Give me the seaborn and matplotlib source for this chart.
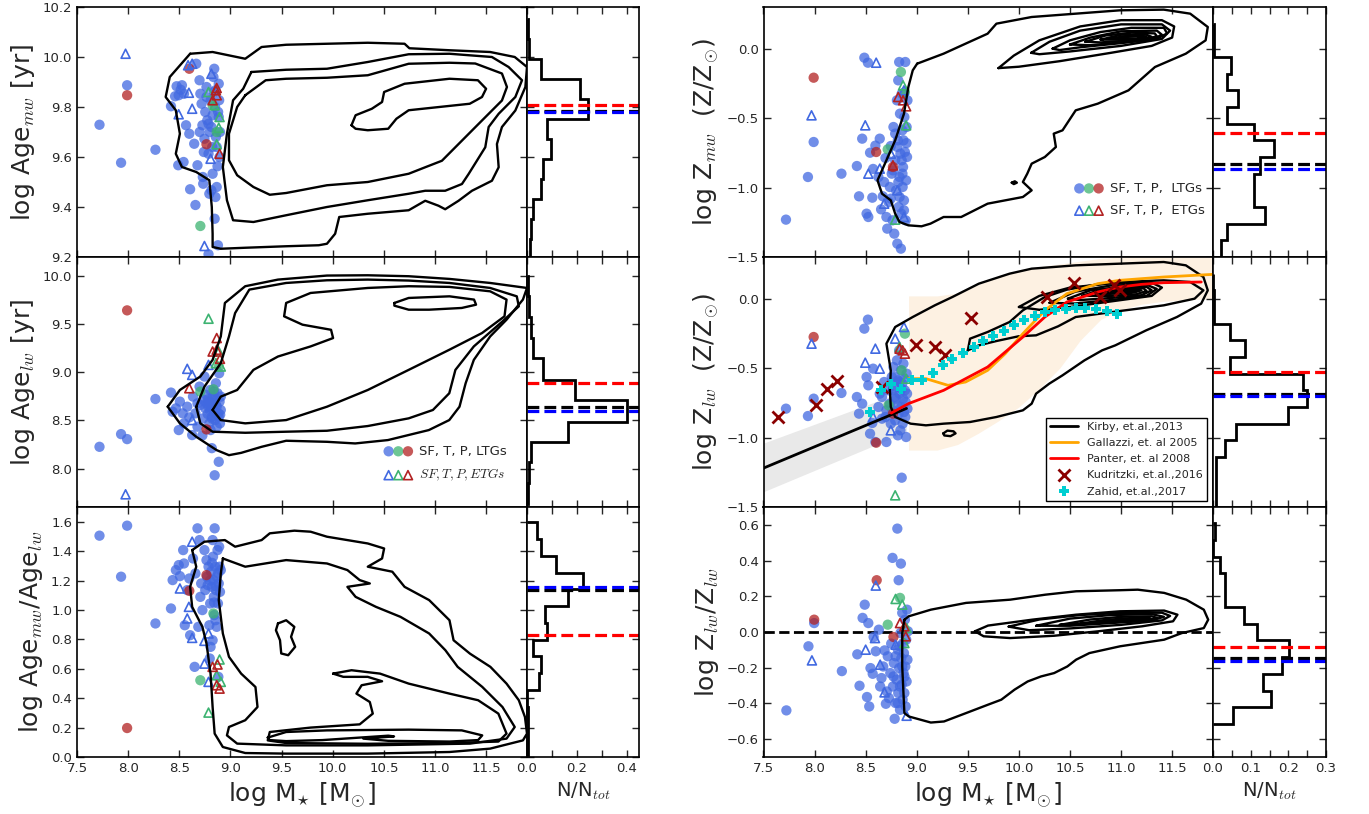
import numpy as np
import matplotlib
matplotlib.use('Agg')
import matplotlib.pyplot as plt
import seaborn as sns
from matplotlib.legend_handler import HandlerTuple

sns.set_style('ticks')
plt.rcParams['font.family'] = ['DejaVu Sans']
plt.rcParams['mathtext.fontset'] = 'cm'

# ---------------- colours ----------------
c_sf, c_t, c_p = 'royalblue', 'mediumseagreen', 'firebrick'

# ---------------- panel A: log Age_mw ----------------
a_ltg_sf = [(7.72,9.729),(7.931,9.577),(7.99,9.887),(8.267,9.629),(8.419,9.803),(8.459,9.843),(8.474,9.883),
            (8.514,9.869),(8.546,9.853),(8.49,9.567),(8.542,9.58),(8.566,9.727),(8.598,9.693),(8.606,9.471),
            (8.646,9.653),(8.658,9.408),(8.666,9.973),(8.678,9.567),(8.698,9.907),(8.706,9.853),(8.718,9.813),
            (8.73,9.52),(8.734,9.493),(8.746,9.673),(8.754,9.78),(8.766,9.88),(8.774,9.747),(8.786,9.613),
            (8.786,9.211),(8.794,9.453),(8.806,9.827),(8.814,9.72),(8.822,9.64),(8.826,9.533),(8.834,9.92),
            (8.842,9.953),(8.846,9.353),(8.85,9.8),(8.854,9.867),(8.858,9.68),(8.866,9.48),(8.874,9.563),
            (8.878,9.247),(8.886,9.893),(8.886,9.76),(8.89,9.827),(8.894,9.6),(8.898,9.7),(8.786,9.733),
            (8.726,9.727),(8.798,9.7),(8.826,9.767),(8.766,9.84),(8.814,9.467),(8.866,9.64),(8.854,9.44),
            (8.494,9.847),(8.526,9.887),(8.74,9.62),(8.7,9.7),(8.84,9.86),(8.88,9.78)]
a_ltg_t = [(8.706,9.324),(8.866,9.7),(8.826,9.807)]
a_ltg_p = [(7.99,9.847),(8.598,9.953),(8.766,9.651)]
a_etg_sf = [(7.975,10.013),(8.494,9.771),(8.594,9.857),(8.626,9.793),(8.586,9.967),(8.626,9.973),
            (8.746,9.244),(8.806,9.593),(8.814,9.933)]
a_etg_t = [(8.786,9.86),(8.894,9.76),(8.886,9.717),(8.866,9.651),(8.846,9.807)]
a_etg_p = [(8.858,9.867),(8.866,9.847),(8.826,9.827),(8.894,9.613),(8.866,9.876)]
a_contours = [
    [(8.606,10.013),(8.826,10.02),(9.145,9.993),(9.305,10.04),(9.545,10.049),(9.944,10.053),(10.343,10.057),
     (10.703,10.053),(10.75,10.035),(11.142,10.027),(11.54,10.02),(11.78,10.0),(11.9,9.96),(11.884,9.88),
     (11.786,9.786),(11.655,9.72),(11.606,9.652),(11.623,9.559),(11.557,9.505),(11.362,9.465),(11.231,9.425),
     (11.1,9.391),(11.035,9.405),(10.905,9.425),(10.743,9.387),(10.343,9.373),(10.064,9.36),(10.024,9.293),
     (9.944,9.253),(9.864,9.247),(9.545,9.243),(9.145,9.237),(8.906,9.233),(8.826,9.24),(8.826,9.293),
     (8.818,9.4),(8.794,9.507),(8.666,9.54),(8.526,9.56),(8.466,9.613),(8.506,9.693),(8.466,9.787),
     (8.367,9.84),(8.407,9.92),(8.606,10.013)],
    [(9.205,9.94),(9.545,9.949),(9.944,9.953),(10.343,9.98),(10.743,10.011),(11.142,10.013),(11.557,10.0),
     (11.72,9.96),(11.851,9.907),(11.786,9.84),(11.623,9.773),(11.525,9.72),(11.492,9.639),(11.329,9.532),
     (11.264,9.492),(11.1,9.465),(10.905,9.465),(10.743,9.453),(10.343,9.427),(9.944,9.4),(9.545,9.367),
     (9.225,9.34),(9.026,9.347),(8.966,9.427),(8.926,9.56),(8.966,9.693),(9.026,9.827),(9.125,9.873),
     (9.205,9.94)],
    [(9.145,9.847),(9.345,9.907),(9.545,9.913),(9.944,9.917),(10.343,9.927),(10.743,9.973),(11.142,9.977),
     (11.394,9.974),(11.655,9.934),(11.704,9.88),(11.655,9.826),(11.394,9.719),(11.231,9.652),(11.068,9.585),
     (10.905,9.559),(10.743,9.533),(10.343,9.5),(9.944,9.487),(9.545,9.456),(9.385,9.449),(9.225,9.48),
     (9.066,9.527),(8.986,9.587),(8.986,9.693),(9.066,9.8),(9.145,9.847)],
    [(10.184,9.727),(10.224,9.767),(10.383,9.793),(10.483,9.82),(10.503,9.86),(10.703,9.893),(11.142,9.913),
     (11.42,9.907),(11.5,9.873),(11.46,9.84),(11.34,9.813),(10.743,9.787),(10.623,9.753),(10.543,9.713),
     (10.343,9.707),(10.224,9.713),(10.184,9.727)],
]
a_edges = [9.193, 9.273, 9.353, 9.433, 9.513, 9.593, 9.673, 9.753, 9.833, 9.913, 9.993, 10.073, 10.153]
a_hist = [0.011, 0.016, 0.025, 0.057, 0.066, 0.098, 0.079, 0.245, 0.213, 0.057, 0.01, 0.005]
a_medians = [9.809, 9.784, 9.779]   # red, black, blue

# ---------------- panel B: log Age_lw ----------------
b_ltg_sf = [(7.72,8.226),(7.931,8.358),(7.99,8.306),(8.267,8.723),(8.419,8.79),(8.435,8.591),(8.467,8.626),
            (8.495,8.4),(8.506,8.696),(8.534,8.574),(8.546,8.47),(8.578,8.643),(8.598,8.532),(8.626,8.348),
            (8.634,8.748),(8.658,8.574),(8.678,8.435),(8.698,8.852),(8.706,8.661),(8.726,8.344),(8.734,8.522),
            (8.746,8.957),(8.754,8.626),(8.766,8.765),(8.778,8.567),(8.786,8.696),(8.794,8.47),(8.802,8.817),
            (8.81,8.643),(8.818,8.212),(8.818,8.539),(8.826,8.748),(8.834,8.609),(8.842,8.696),(8.846,7.93),
            (8.85,8.504),(8.858,8.887),(8.866,8.643),(8.874,8.783),(8.882,8.574),(8.886,8.07),(8.89,8.991),
            (8.894,8.696),(8.898,8.47),(8.906,8.609),(8.906,8.748),(8.806,8.4),(8.866,8.435),(8.766,8.678),
            (8.826,8.678),(8.846,8.574),(8.786,8.643),(8.854,8.73),(8.886,8.539),(8.738,8.713),(8.678,8.678),
            (8.8,8.6),(8.86,8.66),(8.82,8.52),(8.78,8.72),(8.9,8.56),(8.84,8.8)]
b_ltg_t = [(8.706,8.8),(8.834,8.824),(8.886,9.061)]
b_ltg_p = [(7.99,9.645),(8.766,8.407)]
b_etg_sf = [(7.975,7.732),(8.578,9.037),(8.626,8.974),(8.786,9.078),(8.626,8.504)]
b_etg_t = [(8.786,9.558),(8.886,9.217),(8.858,9.096),(8.906,9.061)]
b_etg_p = [(8.866,9.357),(8.826,9.217),(8.866,9.235),(8.898,9.141),(8.598,8.835)]
b_contours = [
    [(8.387,8.643),(8.506,8.817),(8.706,8.957),(8.826,9.13),(8.906,9.374),(8.946,9.722),(9.145,9.896),
     (9.465,9.965),(9.944,10.007),(10.343,10.01),(10.743,10.0),(11.142,9.972),(11.54,9.93),(11.9,9.878),
     (11.86,9.757),(11.7,9.548),(11.54,9.374),(11.38,9.13),(11.3,8.887),(11.24,8.643),(11.14,8.504),
     (10.94,8.4),(10.54,8.296),(10.22,8.261),(9.944,8.278),(9.545,8.289),(9.305,8.226),(9.105,8.163),
     (8.986,8.139),(8.866,8.191),(8.666,8.33),(8.506,8.47),(8.387,8.643)],
    [(8.666,8.643),(8.746,8.852),(8.906,9.096),(8.986,9.374),(9.046,9.617),(9.185,9.861),(9.545,9.93),
     (9.944,9.958),(10.343,9.965),(10.743,9.955),(11.142,9.93),(11.54,9.878),(11.8,9.791),(11.82,9.687),
     (11.66,9.53),(11.38,9.27),(11.2,9.026),(11.14,8.783),(10.98,8.609),(10.743,8.522),(10.343,8.442),
     (9.944,8.393),(9.545,8.383),(9.145,8.372),(8.826,8.383),(8.706,8.47),(8.666,8.643)],
    [(8.826,8.609),(8.906,8.748),(9.066,8.817),(9.225,9.026),(9.465,9.165),(9.784,9.27),(10.004,9.357),
     (9.984,9.443),(9.705,9.496),(9.525,9.583),(9.545,9.722),(9.784,9.826),(10.343,9.878),(10.743,9.896),
     (11.142,9.889),(11.54,9.843),(11.7,9.757),(11.68,9.583),(11.46,9.409),(11.14,9.235),(10.743,9.026),
     (10.343,8.817),(9.944,8.643),(9.545,8.504),(9.145,8.47),(8.906,8.504),(8.826,8.609)],
    [(10.603,9.722),(10.743,9.774),(11.142,9.791),(11.382,9.757),(11.402,9.704),(11.262,9.67),(10.943,9.652),
     (10.743,9.652),(10.603,9.694),(10.603,9.722)],
]
b_edges = [7.635, 7.854, 8.07, 8.278, 8.487, 8.713, 8.922, 9.148, 9.357, 9.574, 9.79, 10.005]
b_hist = [0.005, 0.008, 0.016, 0.164, 0.402, 0.193, 0.066, 0.025, 0.016, 0.01, 0.004]
b_medians = [8.894, 8.636, 8.598]

# ---------------- panel C: log Age_mw/Age_lw ----------------
c_ltg_sf = [(7.72,1.505),(7.931,1.226),(7.99,1.573),(8.267,0.908),(8.419,1.01),(8.435,1.203),(8.467,1.271),
            (8.495,1.305),(8.506,1.23),(8.538,1.407),(8.546,1.316),(8.554,0.896),(8.578,1.135),(8.598,1.214),
            (8.606,0.828),(8.634,1.35),(8.65,0.613),(8.658,1.248),(8.678,1.555),(8.686,0.885),(8.698,1.475),
            (8.706,1.089),(8.714,1.18),(8.726,0.999),(8.746,1.407),(8.754,1.135),(8.766,1.339),(8.77,1.226),
            (8.778,1.169),(8.786,1.294),(8.794,0.896),(8.798,0.67),(8.802,1.044),(8.81,1.26),(8.818,1.157),
            (8.826,1.475),(8.83,1.362),(8.834,1.203),(8.838,1.089),(8.842,0.965),(8.846,1.555),(8.85,1.294),
            (8.854,0.93),(8.858,1.135),(8.866,1.226),(8.874,1.407),(8.878,1.044),(8.882,0.545),(8.886,1.18),
            (8.89,1.43),(8.894,1.294),(8.898,1.123),(8.806,0.749),(8.866,0.885),(8.826,0.794),(8.906,1.271),
            (8.8,1.2),(8.86,1.16),(8.82,1.32),(8.88,1.25),(8.84,1.05)]
c_ltg_t = [(8.834,0.976),(8.706,0.522)]
c_ltg_p = [(7.99,0.197),(8.598,1.13),(8.766,1.237)]
c_etg_sf = [(8.626,1.464),(8.594,1.021),(8.578,0.942),(8.626,0.81),(8.746,0.79),(8.786,0.84),(8.746,0.635),
            (8.786,0.511),(8.506,1.146)]
c_etg_t = [(8.786,0.302),(8.894,0.663),(8.866,0.556),(8.906,0.511)]
c_etg_p = [(8.826,0.613),(8.874,0.629),(8.866,0.488),(8.894,0.465)]
c_contours = [
    [(8.626,1.407),(8.746,1.464),(8.946,1.475),(9.046,1.43),(9.305,1.475),(9.385,1.521),(9.625,1.539),
     (9.784,1.532),(9.944,1.498),(10.343,1.452),(10.503,1.418),(10.483,1.35),(10.343,1.294),(10.583,1.26),
     (10.703,1.157),(10.943,1.067),(11.142,0.93),(11.182,0.794),(11.342,0.703),(11.542,0.613),(11.7,0.499),
     (11.82,0.386),(11.88,0.272),(11.9,0.159),(11.86,0.113),(11.54,0.057),(11.142,0.034),(10.343,0.023),
     (9.545,0.023),(9.145,0.027),(8.926,0.068),(8.846,0.159),(8.826,0.34),(8.806,0.567),(8.766,0.772),
     (8.726,0.885),(8.626,1.021),(8.606,1.157),(8.666,1.294),(8.626,1.407)],
    [(8.926,1.35),(9.145,1.294),(9.545,1.339),(9.944,1.316),(10.144,1.271),(10.264,1.203),(10.363,1.18),
     (10.144,1.157),(10.224,1.089),(10.423,1.021),(10.663,0.953),(10.943,0.84),(11.102,0.726),(11.222,0.613),
     (11.462,0.477),(11.66,0.34),(11.78,0.204),(11.7,0.125),(11.342,0.091),(10.343,0.079),(9.545,0.079),
     (9.066,0.091),(8.966,0.147),(8.986,0.204),(9.145,0.25),(9.265,0.34),(9.245,0.476),(9.105,0.567),
     (8.986,0.681),(8.926,0.84),(8.886,1.067),(8.906,1.248),(8.926,1.35)],
    [(10.004,0.567),(10.184,0.59),(10.463,0.567),(10.743,0.499),(11.142,0.431),(11.422,0.386),(11.62,0.295),
     (11.7,0.159),(11.62,0.105),(11.142,0.095),(10.343,0.09),(9.545,0.095),(9.365,0.113),(9.385,0.17),
     (9.784,0.2),(10.264,0.222),(10.392,0.295),(10.363,0.374),(10.232,0.431),(10.283,0.488),(10.483,0.515),
     (10.343,0.545),(10.104,0.545),(10.004,0.567)],
    [(9.365,0.132),(9.545,0.17),(9.944,0.181),(10.743,0.186),(11.262,0.181),(11.462,0.147),(11.422,0.115),
     (11.142,0.105),(10.543,0.11),(10.3,0.125),(10.6,0.14),(10.543,0.145),(9.9,0.115),(9.545,0.108),
     (9.385,0.115),(9.365,0.132)],
    [(9.465,0.908),(9.545,0.93),(9.625,0.885),(9.593,0.817),(9.633,0.749),(9.565,0.692),(9.497,0.704),
     (9.485,0.794),(9.445,0.862),(9.465,0.908)],
]
c_edges = [0.0, 0.114, 0.228, 0.342, 0.456, 0.570, 0.684, 0.798, 0.912, 1.026, 1.140, 1.254, 1.368, 1.482, 1.596]
c_hist = [0.003, 0.003, 0.003, 0.0, 0.049, 0.057, 0.025, 0.082, 0.074, 0.164, 0.226, 0.115, 0.057, 0.041]
c_medians = [0.828, 1.135, 1.153]

# ---------------- panel D: log Z_mw ----------------
d_ltg_sf = [(7.72,-1.231),(7.935,-0.924),(7.991,-0.672),(8.263,-0.9),(8.414,-0.845),(8.435,-1.063),
            (8.466,-0.648),(8.487,-0.065),(8.509,-1.188),(8.522,-0.101),(8.526,-1.212),(8.543,-0.749),
            (8.565,-1.073),(8.573,-0.866),(8.595,-0.698),(8.625,-0.924),(8.638,-0.648),(8.651,-1.157),
            (8.668,-1.063),(8.681,-0.96),(8.694,-0.787),(8.703,-1.212),(8.711,-1.296),(8.724,-1.104),
            (8.737,-0.996),(8.746,-0.701),(8.755,-0.9),(8.763,-1.236),(8.772,-0.564),(8.78,-1.332),
            (8.789,-0.804),(8.798,-1.02),(8.806,-0.372),(8.81,-1.404),(8.815,-0.66),(8.819,-0.228),
            (8.823,-1.14),(8.828,-0.096),(8.832,-0.924),(8.836,-0.468),(8.84,-0.756),(8.845,-1.44),
            (8.849,-1.188),(8.853,-0.324),(8.858,-0.588),(8.862,-0.996),(8.866,-0.852),(8.87,-0.66),
            (8.875,-1.092),(8.879,-0.492),(8.884,-0.744),(8.888,-0.096),(8.892,-1.236),(8.896,-0.948),
            (8.901,-0.564),(8.905,-0.78),(8.909,-0.372),(8.789,-0.612),(8.81,-0.708),(8.853,-0.804),
            (8.746,-1.08),(8.832,-1.068),(8.767,-0.876),(8.875,-1.164),(8.86,-0.9),(8.9,-0.68),(8.82,-0.96)]
d_ltg_t = [(8.845,-0.168),(8.716,-0.725),(8.884,-0.312)]
d_ltg_p = [(7.991,-0.209),(8.603,-0.744),(8.767,-0.852)]
d_etg_sf = [(7.97,-0.48),(8.496,-0.552),(8.603,-0.101),(8.526,-0.9),(8.638,-0.864),(8.746,-0.756),
            (8.681,-1.116),(8.875,-0.3),(8.81,-1.02),(8.875,-1.212)]
d_etg_t = [(8.866,-0.264),(8.896,-0.552),(8.789,-1.231)]
d_etg_p = [(8.819,-0.348),(8.866,-0.372),(8.896,-0.415),(8.767,-0.84)]
d_contours = [
    [(9.004,-0.108),(9.263,-0.036),(9.478,0.036),(9.694,0.108),(9.78,0.18),(10.125,0.228),(10.556,0.252),
     (10.987,0.276),(11.418,0.281),(11.677,0.252),(11.849,0.156),(11.828,0.06),(11.634,-0.036),(11.332,-0.132),
     (11.073,-0.3),(10.772,-0.396),(10.556,-0.444),(10.427,-0.588),(10.341,-0.612),(10.362,-0.708),
     (10.254,-0.78),(10.125,-0.828),(10.082,-0.9),(10.039,-0.96),(10.125,-1.02),(10.039,-1.068),(9.694,-1.116),
     (9.435,-1.212),(9.263,-1.212),(9.134,-1.26),(9.047,-1.279),(8.918,-1.272),(8.832,-1.248),(8.789,-1.188),
     (8.746,-1.092),(8.66,-1.044),(8.616,-0.948),(8.703,-0.804),(8.789,-0.66),(8.875,-0.468),(8.918,-0.276),
     (8.961,-0.156),(9.004,-0.108)],
    [(9.80,-0.14),(9.95,-0.05),(10.2,0.06),(10.6,0.16),(11.0,0.205),(11.4,0.205),(11.52,0.16),(11.5,0.08),
     (11.3,0.02),(10.9,-0.03),(10.4,-0.09),(10.0,-0.13),(9.80,-0.14)],
    [(10.12,-0.03),(10.3,0.05),(10.6,0.13),(11.0,0.175),(11.4,0.175),(11.48,0.13),(11.4,0.07),(11.0,0.02),
     (10.5,-0.02),(10.2,-0.04),(10.12,-0.03)],
    [(10.33,0.0),(10.5,0.06),(10.8,0.12),(11.1,0.15),(11.42,0.15),(11.45,0.11),(11.35,0.07),(11.0,0.04),
     (10.6,0.01),(10.4,-0.01),(10.33,0.0)],
    [(10.5,0.03),(10.7,0.08),(11.0,0.125),(11.35,0.13),(11.4,0.1),(11.3,0.065),(11.0,0.045),(10.7,0.025),
     (10.5,0.03)],
    [(10.65,0.05),(10.85,0.095),(11.1,0.115),(11.33,0.11),(11.35,0.09),(11.25,0.068),(11.0,0.055),
     (10.8,0.045),(10.65,0.05)],
    [(10.8,0.065),(11.0,0.1),(11.25,0.1),(11.3,0.085),(11.2,0.07),(11.0,0.065),(10.8,0.065)],
    [(10.9,0.075),(11.05,0.09),(11.22,0.09),(11.25,0.08),(11.15,0.072),(10.9,0.075)],
    [(9.93,-0.965),(9.96,-0.955),(9.98,-0.965),(9.95,-0.975),(9.93,-0.965)],
]
d_edges = [-1.5, -1.38, -1.26, -1.14, -1.02, -0.9, -0.78, -0.66, -0.54, -0.42, -0.30, -0.18, -0.06, 0.06, 0.18]
d_hist = [0.02, 0.038, 0.138, 0.108, 0.11, 0.126, 0.161, 0.108, 0.038, 0.067, 0.038, 0.049, 0.003, 0.003]
d_medians = [-0.607, -0.833, -0.864]

# ---------------- panel E: log Z_lw ----------------
e_ltg_sf = [(7.72,-0.792),(7.935,-0.845),(7.991,-0.72),(8.263,-0.679),(8.414,-0.708),(8.435,-0.828),
            (8.466,-0.756),(8.487,-0.216),(8.509,-0.564),(8.522,-0.151),(8.526,-0.624),(8.543,-0.972),
            (8.565,-0.895),(8.573,-0.504),(8.595,-1.032),(8.625,-0.78),(8.638,-0.684),(8.66,-0.708),
            (8.681,-0.6),(8.694,-0.852),(8.703,-1.032),(8.724,-0.66),(8.737,-0.756),(8.746,-0.9),
            (8.755,-0.564),(8.763,-0.804),(8.772,-0.492),(8.78,-0.708),(8.789,-0.876),(8.798,-0.636),
            (8.806,-0.444),(8.81,-0.768),(8.815,-0.984),(8.819,-0.588),(8.823,-0.828),(8.828,-0.372),
            (8.832,-0.684),(8.84,-0.948),(8.845,-0.516),(8.849,-0.78),(8.853,-1.289),(8.858,-0.612),
            (8.862,-0.9),(8.866,-0.72),(8.87,-0.468),(8.875,-0.816),(8.879,-0.576),(8.884,-0.66),
            (8.888,-0.852),(8.892,-0.744),(8.896,-0.996),(8.901,-0.54),(8.905,-0.684),(8.909,-0.792),
            (8.789,-0.564),(8.832,-0.6),(8.767,-0.66),(8.703,-0.804),(8.66,-0.864),(8.85,-0.65),(8.8,-0.72)]
e_ltg_t = [(8.884,-0.252),(8.724,-0.768),(8.853,-0.516)]
e_ltg_p = [(7.991,-0.276),(8.603,-1.037),(8.767,-0.828)]
e_etg_sf = [(7.97,-0.324),(8.496,-0.461),(8.595,-0.36),(8.638,-0.504),(8.875,-0.204),(8.789,-0.288),
            (8.746,-0.948),(8.573,-0.852)]
e_etg_t = [(8.789,-1.416),(8.896,-0.576),(8.832,-0.348)]
e_etg_p = [(8.862,-0.372),(8.884,-0.396),(8.832,-0.36)]
e_contours = [
    [(8.737,-0.66),(8.746,-0.516),(8.703,-0.324),(8.789,-0.204),(8.961,-0.132),(9.177,-0.048),(9.349,0.012),
     (9.608,0.108),(9.909,0.18),(10.125,0.216),(10.556,0.24),(10.987,0.252),(11.418,0.264),(11.634,0.24),
     (11.806,0.156),(11.849,0.06),(11.784,-0.036),(11.547,-0.132),(11.246,-0.228),(10.944,-0.336),
     (10.815,-0.372),(10.642,-0.444),(10.427,-0.552),(10.297,-0.612),(10.168,-0.684),(10.125,-0.756),
     (10.039,-0.804),(9.78,-0.852),(9.522,-0.888),(9.263,-0.9),(9.09,-0.912),(8.94,-0.9),(8.789,-0.852),
     (8.746,-0.78),(8.737,-0.66)],
    [(9.5,-0.372),(9.522,-0.288),(9.694,-0.24),(9.909,-0.168),(10.039,-0.084),(10.254,0.012),(10.47,0.065),
     (10.772,0.103),(10.987,0.12),(11.418,0.132),(11.677,0.12),(11.806,0.06),(11.72,0.0),(11.418,-0.048),
     (10.987,-0.089),(10.556,-0.132),(10.384,-0.199),(10.168,-0.264),(9.996,-0.271),(9.78,-0.305),
     (9.608,-0.336),(9.5,-0.372)],
    [(10.0,-0.06),(10.2,0.02),(10.5,0.08),(10.9,0.11),(11.3,0.115),(11.4,0.08),(11.3,0.02),(10.9,-0.02),
     (10.5,-0.06),(10.2,-0.08),(10.0,-0.06)],
    [(10.3,-0.03),(10.55,0.05),(10.9,0.095),(11.25,0.1),(11.35,0.07),(11.25,0.02),(10.9,-0.01),(10.55,-0.035),
     (10.3,-0.03)],
    [(10.48,0.0),(10.7,0.06),(11.0,0.085),(11.25,0.085),(11.3,0.06),(11.2,0.025),(10.9,0.005),(10.6,-0.01),
     (10.48,0.0)],
    [(10.62,0.02),(10.8,0.065),(11.05,0.078),(11.22,0.075),(11.25,0.055),(11.15,0.032),(10.9,0.02),(10.62,0.02)],
    [(10.75,0.035),(10.9,0.06),(11.1,0.068),(11.2,0.06),(11.1,0.042),(10.9,0.035),(10.75,0.035)],
    [(10.85,0.045),(11.0,0.057),(11.13,0.057),(11.15,0.05),(11.0,0.045),(10.85,0.045)],
    [(9.26,-0.97),(9.3,-0.95),(9.36,-0.955),(9.38,-0.97),(9.33,-0.99),(9.27,-0.985),(9.26,-0.97)],
]
e_edges = d_edges
e_hist = [0.008, 0.008, 0.008, 0.032, 0.061, 0.198, 0.25, 0.238, 0.044, 0.085, 0.044, 0.003, 0.003, 0.0]
e_medians = [-0.528, -0.684, -0.7]

# literature relations (panel E)
kirby_x = [7.5, 8.9]
kirby_y = [-1.22, -0.79]
kirby_lo = [-1.39, -0.96]
kirby_hi = [-1.04, -0.66]
gallazzi_x = [8.918, 9.09, 9.306, 9.478, 9.694, 9.866, 10.039, 10.254, 10.47, 10.772, 10.987, 11.418, 11.9]
gallazzi_y = [-0.576, -0.576, -0.624, -0.6, -0.516, -0.396, -0.252, -0.084, 0.036, 0.108, 0.132, 0.156, 0.175]
gal_band_x = [8.92, 9.2, 9.4, 9.6, 9.8, 10.0, 10.2, 10.4, 10.6, 10.8, 11.0, 11.2, 11.4, 11.6, 11.9]
gal_band_lo = [-1.09, -1.09, -1.05, -0.97, -0.88, -0.78, -0.65, -0.5, -0.3, -0.15, -0.08, -0.04, -0.02, -0.01, 0.0]
gal_band_hi = [0.02, 0.02, 0.04, 0.1, 0.16, 0.2, 0.23, 0.25, 0.27, 0.29, 0.3, 0.3, 0.3, 0.3, 0.3]
panter_x = [8.75, 8.918, 9.263, 9.694, 10.039, 10.254, 10.47, 10.772, 10.987, 11.2, 11.418, 11.785]
panter_y = [-0.824, -0.756, -0.66, -0.492, -0.276, -0.132, -0.024, 0.048, 0.084, 0.103, 0.115, 0.12]
kud_x = [7.64, 8.011, 8.125, 8.22, 8.66, 8.99, 9.18, 9.277, 9.533, 10.276, 10.543, 10.793, 10.931, 10.987]
kud_y = [-0.853, -0.769, -0.652, -0.592, -0.633, -0.336, -0.35, -0.402, -0.14, 0.012, 0.115, 0.012, 0.1, 0.06]
zahid_x = [8.543, 8.65, 8.75, 8.85, 8.95, 9.047, 9.155, 9.254, 9.349, 9.457, 9.556, 9.651, 9.75, 9.853,
           9.953, 10.052, 10.155, 10.254, 10.353, 10.457, 10.556, 10.651, 10.75, 10.858, 10.957]
zahid_y = [-0.815, -0.658, -0.615, -0.65, -0.584, -0.587, -0.536, -0.48, -0.432, -0.389, -0.348, -0.307,
           -0.271, -0.235, -0.192, -0.151, -0.127, -0.096, -0.084, -0.077, -0.067, -0.065, -0.077, -0.091, -0.108]

# ---------------- panel F: log Z_lw/Z_lw ----------------
f_ltg_sf = [(7.724,-0.439),(7.94,-0.08),(7.996,0.05),(8.267,-0.219),(8.418,-0.125),(8.44,-0.301),(8.47,0.079),
            (8.491,0.153),(8.513,-0.364),(8.526,0.05),(8.535,-0.417),(8.547,-0.202),(8.569,-0.234),
            (8.578,-0.028),(8.599,-0.108),(8.629,0.013),(8.642,-0.305),(8.655,-0.258),(8.672,-0.193),
            (8.685,-0.103),(8.698,-0.402),(8.707,-0.333),(8.716,-0.136),(8.728,-0.37),(8.741,-0.23),
            (8.75,-0.065),(8.763,0.415),(8.767,-0.305),(8.776,-0.174),(8.784,-0.486),(8.793,-0.398),
            (8.802,-0.267),(8.81,0.579),(8.815,-0.099),(8.819,-0.342),(8.823,0.29),(8.828,-0.202),
            (8.836,-0.436),(8.84,-0.006),(8.845,0.383),(8.849,-0.146),(8.853,-0.295),(8.858,0.107),
            (8.862,-0.379),(8.866,-0.062),(8.871,-0.23),(8.875,-0.118),(8.879,-0.342),(8.884,0.069),
            (8.888,-0.193),(8.892,-0.417),(8.897,-0.043),(8.901,-0.277),(8.905,0.125),(8.909,-0.155),
            (8.914,0.004),(8.793,-0.136),(8.836,-0.305),(8.772,-0.249),(8.858,-0.193),(8.815,-0.398),
            (8.88,-0.25),(8.83,-0.08)]
f_ltg_t = [(8.836,0.191),(8.716,0.041)]
f_ltg_p = [(7.996,0.069),(8.608,0.29),(8.772,-0.028)]
f_etg_sf = [(7.974,-0.159),(8.5,-0.099),(8.599,0.26),(8.591,-0.034),(8.642,-0.183),(8.685,-0.338),
            (8.793,-0.071),(8.901,-0.469)]
f_etg_t = [(8.793,0.185),(8.858,0.153),(8.879,-0.062),(8.901,0.022)]
f_etg_p = [(8.836,0.05),(8.879,0.032),(8.892,-0.024)]
f_contours = [
    [(8.88,0.069),(8.922,0.088),(9.138,0.125),(9.483,0.163),(9.914,0.181),(10.259,0.209),(10.56,0.228),
     (10.991,0.234),(11.164,0.237),(11.422,0.219),(11.638,0.181),(11.81,0.125),(11.853,0.069),(11.81,0.022),
     (11.595,-0.006),(11.422,-0.043),(10.991,-0.08),(10.69,-0.118),(10.56,-0.155),(10.474,-0.193),
     (10.345,-0.23),(10.216,-0.249),(10.086,-0.277),(9.957,-0.323),(9.828,-0.379),(9.698,-0.407),
     (9.483,-0.454),(9.267,-0.501),(9.138,-0.507),(8.922,-0.473),(8.879,-0.454),(8.858,-0.193),
     (8.858,-0.006),(8.88,0.069)],
    [(9.569,0.004),(9.698,0.036),(10.129,0.069),(10.56,0.097),(10.991,0.116),(11.422,0.12),(11.552,0.097),
     (11.509,0.06),(11.207,0.032),(10.776,0.004),(10.345,-0.021),(9.914,-0.034),(9.655,-0.024),(9.569,0.004)],
    [(9.9,0.03),(10.2,0.07),(10.6,0.095),(11.0,0.107),(11.4,0.108),(11.48,0.09),(11.4,0.065),(11.0,0.04),
     (10.5,0.02),(10.1,0.01),(9.9,0.03)],
    [(10.17,0.035),(10.5,0.075),(10.9,0.095),(11.3,0.1),(11.42,0.085),(11.3,0.065),(10.9,0.05),(10.5,0.035),
     (10.17,0.035)],
    [(10.4,0.04),(10.7,0.07),(11.0,0.085),(11.3,0.088),(11.36,0.078),(11.25,0.065),(10.9,0.055),(10.6,0.045),
     (10.4,0.04)],
    [(10.6,0.047),(10.85,0.068),(11.1,0.078),(11.28,0.078),(11.3,0.07),(11.1,0.06),(10.85,0.053),(10.6,0.047)],
    [(10.78,0.055),(11.0,0.068),(11.2,0.07),(11.22,0.063),(11.0,0.058),(10.78,0.055)],
]
f_edges = [-0.516, -0.422, -0.328, -0.235, -0.141, -0.047, 0.047, 0.141, 0.234, 0.328, 0.422, 0.516, 0.609]
f_hist = [0.053, 0.155, 0.132, 0.184, 0.202, 0.116, 0.081, 0.032, 0.032, 0.018, 0.0, 0.005]
f_medians = [-0.082, -0.146, -0.164]

# ---------------- layout (pixels of the 1369x814 canvas) ----------------
W, H = 1369.0, 814.0
fig = plt.figure(figsize=(W / 100, H / 100), dpi=100)


def box(x0, x1, y0, y1):
    return [x0 / W, 1 - y1 / H, (x1 - x0) / W, (y1 - y0) / H]


rows = [(7, 257), (257, 507), (507, 757)]
cols = [((77, 527), (527, 639)), ((763.5, 1213), (1213, 1326))]


def style(ax):
    ax.tick_params(direction='in', top=True, right=True, length=5, width=1, labelsize=9.5)
    for s in ax.spines.values():
        s.set_linewidth(1.2)
        s.set_color('k')


def scatter_groups(ax, groups):
    ltg_sf, ltg_t, ltg_p, etg_sf, etg_t, etg_p = groups
    for pts, c in [(ltg_sf, c_sf), (ltg_t, c_t), (ltg_p, c_p)]:
        x, y = zip(*pts)
        sns.scatterplot(x=list(x), y=list(y), ax=ax, color=c, s=55, alpha=0.75, edgecolor='none',
                        linewidth=0, zorder=2, legend=False)
    for pts, c in [(etg_sf, c_sf), (etg_t, c_t), (etg_p, c_p)]:
        x, y = zip(*pts)
        sns.scatterplot(x=list(x), y=list(y), ax=ax, marker='^', s=42, facecolor='none', edgecolor=c,
                        linewidth=1.2, zorder=2, legend=False)


def draw_contours(ax, contours):
    for cont in contours:
        x, y = zip(*cont)
        ax.plot(x, y, color='k', lw=1.7, zorder=3)


def hist_panel(hax, edges, vals, medians, ylim, xmax):
    hax.stairs(vals, edges, orientation='horizontal', color='k', lw=2, baseline=0)
    for m, c in zip(medians, ['r', 'k', 'b']):
        hax.axhline(m, color=c, ls='--', lw=2.3)
    hax.set_ylim(ylim)
    hax.set_xlim(0, xmax)


panels = [
    # (col, row, groups, contours, edges, hist, medians, ylim, yticks, ylabel)
    (0, 0, (a_ltg_sf, a_ltg_t, a_ltg_p, a_etg_sf, a_etg_t, a_etg_p), a_contours, a_edges, a_hist, a_medians,
     (9.2, 10.2), np.arange(9.2, 10.21, 0.2), r'log Age$_{mw}$ [yr]'),
    (0, 1, (b_ltg_sf, b_ltg_t, b_ltg_p, b_etg_sf, b_etg_t, b_etg_p), b_contours, b_edges, b_hist, b_medians,
     (7.6, 10.2), np.arange(8.0, 10.01, 0.5), r'log Age$_{lw}$ [yr]'),
    (0, 2, (c_ltg_sf, c_ltg_t, c_ltg_p, c_etg_sf, c_etg_t, c_etg_p), c_contours, c_edges, c_hist, c_medians,
     (0.0, 1.7), np.arange(0.0, 1.61, 0.2), r'log Age$_{mw}$/Age$_{lw}$'),
    (1, 0, (d_ltg_sf, d_ltg_t, d_ltg_p, d_etg_sf, d_etg_t, d_etg_p), d_contours, d_edges, d_hist, d_medians,
     (-1.5, 0.3), np.arange(-1.5, 0.01, 0.5), r'log Z$_{mw}$  (Z/Z$_{\odot}$)'),
    (1, 1, (e_ltg_sf, e_ltg_t, e_ltg_p, e_etg_sf, e_etg_t, e_etg_p), e_contours, e_edges, e_hist, e_medians,
     (-1.5, 0.3), np.arange(-1.5, 0.01, 0.5), r'log Z$_{lw}$  (Z/Z$_{\odot}$)'),
    (1, 2, (f_ltg_sf, f_ltg_t, f_ltg_p, f_etg_sf, f_etg_t, f_etg_p), f_contours, f_edges, f_hist, f_medians,
     (-0.7, 0.7), np.arange(-0.6, 0.61, 0.2), r'log Z$_{lw}$/Z$_{lw}$'),
]

axes = {}
for col, row, groups, conts, edges, hv, meds, ylim, yticks, ylabel in panels:
    (mx0, mx1), (hx0, hx1) = cols[col]
    y0, y1 = rows[row]
    ax = fig.add_axes(box(mx0, mx1, y0, y1))
    hax = fig.add_axes(box(hx0, hx1, y0, y1))
    axes[(col, row)] = ax
    scatter_groups(ax, groups)
    draw_contours(ax, conts)
    ax.set_xlim(7.5, 11.9)
    ax.set_ylim(ylim)
    ax.set_yticks(yticks)
    ax.set_xticks(np.arange(7.5, 11.6, 0.5))
    ax.set_ylabel(ylabel, fontsize=18)
    xmax = 0.45 if col == 0 else 0.3
    hist_panel(hax, edges, hv, meds, ylim, xmax)
    hax.set_yticks(yticks)
    hax.set_yticklabels([])
    if col == 0:
        hax.set_xticks([0, 0.1, 0.2, 0.3, 0.4])
        hax.set_xticklabels(['0.0', '', '0.2', '', '0.4'])
    else:
        hax.set_xticks([0, 0.05, 0.1, 0.15, 0.2, 0.25, 0.3])
        hax.set_xticklabels(['0.0', '', '0.1', '', '0.2', '', '0.3'])
    style(ax)
    style(hax)
    if row < 2:
        ax.set_xticklabels([])
        hax.set_xticklabels([])
    else:
        ax.set_xticklabels(['7.5', '8.0', '8.5', '9.0', '9.5', '10.0', '10.5', '11.0', '11.5'])
        ax.set_xlabel(r'log M$_{\star}$ [M$_{\odot}$]', fontsize=18)
        hax.set_xlabel(r'N/N$_{tot}$', fontsize=14)

# ---- extras on panel E (literature relations) ----
ax = axes[(1, 1)]
ax.fill_between(gal_band_x, gal_band_lo, gal_band_hi, color='#fdf1e2', lw=0, zorder=0)
ax.fill_between(kirby_x, kirby_lo, kirby_hi, color='#e9e9e9', lw=0, zorder=0)
l1, = ax.plot(kirby_x, kirby_y, color='k', lw=2, zorder=4)
l2, = ax.plot(gallazzi_x, gallazzi_y, color='orange', lw=2, zorder=4)
l3, = ax.plot(panter_x, panter_y, color='red', lw=2, zorder=4)
l4, = ax.plot(kud_x, kud_y, 'x', color='darkred', ms=9, mew=2, zorder=5)
l5, = ax.plot(zahid_x, zahid_y, 'P', color='darkturquoise', ms=7, mew=0, zorder=5)
ax.legend([l1, l2, l3, l4, l5],
          ['Kirby, et.al.,2013', 'Gallazzi, et. al 2005', 'Panter, et. al 2008',
           'Kudritzki, et.al.,2016', 'Zahid, et.al.,2017'],
          loc='lower right', bbox_to_anchor=(0.987, 0.024), fontsize=8, frameon=True, fancybox=False,
          edgecolor='k', framealpha=1, borderaxespad=0, handlelength=2.5, labelspacing=0.55)

# ---- dashed zero line on panel F ----
axes[(1, 2)].axhline(0.0, color='k', ls='--', lw=2, zorder=1)


# ---- marker legends on panels B and D ----
def group_legend(ax, labels, anchor):
    hc = [ax.scatter([], [], s=55, color=c, alpha=0.75, edgecolor='none') for c in (c_sf, c_t, c_p)]
    ht = [ax.scatter([], [], s=42, marker='^', facecolor='none', edgecolor=c, linewidth=1.2)
          for c in (c_sf, c_t, c_p)]
    ax.legend([tuple(hc), tuple(ht)], labels, handler_map={tuple: HandlerTuple(ndivide=None, pad=0.0)},
              loc='center left', bbox_to_anchor=anchor, frameon=False, fontsize=9.5, handlelength=2.2,
              handletextpad=0.5, labelspacing=0.7, borderaxespad=0, scatterpoints=1)


group_legend(axes[(0, 1)], ['SF, T, P, LTGs', r'$SF, T, P, ETGs$'], (0.67, 0.172))
group_legend(axes[(1, 0)], ['SF, T, P,  LTGs', 'SF, T, P,  ETGs'], (0.68, 0.23))

fig.savefig('out.png', dpi=100)
